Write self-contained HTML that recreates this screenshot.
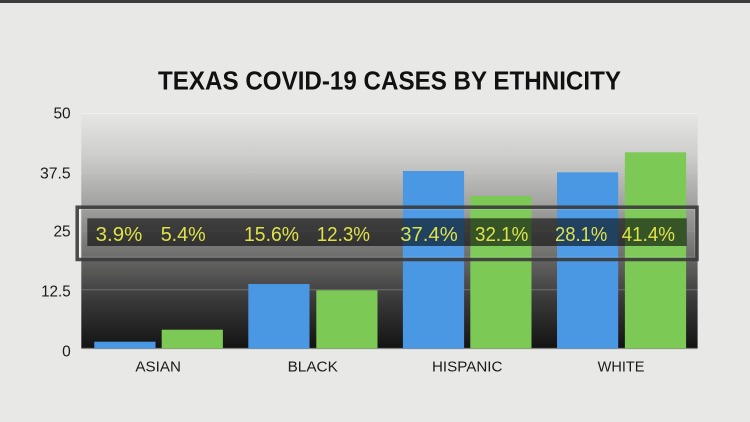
<!DOCTYPE html>
<html><head><meta charset="utf-8"><style>
html,body{margin:0;padding:0;background:#e8e9e6;}
svg{display:block;}
</style></head><body>
<svg width="750" height="422" viewBox="0 0 750 422" xmlns="http://www.w3.org/2000/svg">
<defs>
<linearGradient id="bg" x1="0" y1="0" x2="0" y2="1">
<stop offset="0" stop-color="#e6e6e5"/>
<stop offset="0.18" stop-color="#cdcdcc"/>
<stop offset="0.38" stop-color="#a3a3a2"/>
<stop offset="0.6" stop-color="#6a6a69"/>
<stop offset="0.8" stop-color="#383838"/>
<stop offset="1" stop-color="#131313"/>
</linearGradient>
</defs>
<rect x="0" y="0" width="750" height="422" fill="#e8e9e6"/>
<rect x="0" y="0" width="750" height="3" fill="#3c3c3c"/>
<text x="158" y="89.3" font-family="Liberation Sans, sans-serif" font-weight="bold" font-size="26" fill="#111" textLength="463" lengthAdjust="spacingAndGlyphs">TEXAS COVID-19 CASES BY ETHNICITY</text>
<!-- plot -->
<rect x="81.3" y="113.5" width="616.3" height="235" fill="url(#bg)"/>
<line x1="81.3" y1="113.5" x2="697.6" y2="113.5" stroke="#f0f0ee" stroke-width="1"/>
<line x1="81.3" y1="172.25" x2="697.6" y2="172.25" stroke="#c8c8c6" stroke-width="1" opacity="0.6"/>
<line x1="81.3" y1="231" x2="697.6" y2="231" stroke="#9a9a98" stroke-width="1" opacity="0.6"/>
<line x1="81.3" y1="289.75" x2="697.6" y2="289.75" stroke="#7a7a78" stroke-width="1" opacity="0.8"/>
<line x1="81.3" y1="348.5" x2="697.6" y2="348.5" stroke="#888" stroke-width="1.2"/>
<!-- tick labels -->
<g font-family="Liberation Sans, sans-serif" font-size="15.5" fill="#1a1a1a" text-anchor="end">
<text x="70.7" y="118.3">50</text>
<text x="70.7" y="178.3" textLength="30.7" lengthAdjust="spacingAndGlyphs">37.5</text>
<text x="70.7" y="236.7">25</text>
<text x="70.7" y="296.7" textLength="29.6" lengthAdjust="spacingAndGlyphs">12.5</text>
<text x="70.7" y="356.5">0</text>
</g>
<!-- bars -->
<g fill="#4a98e4">
<rect x="94.3" y="341.7" width="61.2" height="6.8"/>
<rect x="248.3" y="284" width="61.2" height="64.5"/>
<rect x="402.9" y="171" width="61.2" height="177.5"/>
<rect x="557" y="172.3" width="61.2" height="176.2"/>
</g>
<g fill="#7cc955">
<rect x="161.7" y="329.7" width="61.2" height="18.8"/>
<rect x="316.3" y="290.3" width="61.2" height="58.2"/>
<rect x="470.3" y="196" width="61.2" height="152.5"/>
<rect x="624.9" y="152.3" width="61.2" height="196.2"/>
</g>
<!-- category labels -->
<g font-family="Liberation Sans, sans-serif" font-size="14.5" fill="#1a1a1a">
<text x="135.4" y="371.7" textLength="45.5" lengthAdjust="spacingAndGlyphs">ASIAN</text>
<text x="287.6" y="371.7" textLength="50.2" lengthAdjust="spacingAndGlyphs">BLACK</text>
<text x="432" y="371.7" textLength="70.4" lengthAdjust="spacingAndGlyphs">HISPANIC</text>
<text x="597.6" y="371.7" textLength="46.9" lengthAdjust="spacingAndGlyphs">WHITE</text>
</g>
<!-- overlay -->
<rect x="77.2" y="207.2" width="619.8" height="52.3" fill="rgba(255,255,255,0.04)" stroke="#3a3a3a" stroke-width="3.5" opacity="0.9"/>
<line x1="79.8" y1="210" x2="79.8" y2="256.7" stroke="rgba(255,255,255,0.7)" stroke-width="1.2"/>
<rect x="79.6" y="209.6" width="615" height="47.5" fill="none" stroke="rgba(255,255,255,0.15)" stroke-width="1"/>
<rect x="87.3" y="218.3" width="599.4" height="27.7" fill="rgba(0,0,0,0.58)"/>
<g font-family="Liberation Sans, sans-serif" font-size="20" fill="#dfe24b">
<text x="95.7" y="241" textLength="46.6" lengthAdjust="spacingAndGlyphs">3.9%</text>
<text x="160.7" y="241" textLength="45" lengthAdjust="spacingAndGlyphs">5.4%</text>
<text x="244" y="241" textLength="55" lengthAdjust="spacingAndGlyphs">15.6%</text>
<text x="316.7" y="241" textLength="53.3" lengthAdjust="spacingAndGlyphs">12.3%</text>
<text x="400.3" y="241" textLength="57.4" lengthAdjust="spacingAndGlyphs">37.4%</text>
<text x="475" y="241" textLength="53.3" lengthAdjust="spacingAndGlyphs">32.1%</text>
<text x="555" y="241" textLength="52.3" lengthAdjust="spacingAndGlyphs">28.1%</text>
<text x="621.7" y="241" textLength="53.3" lengthAdjust="spacingAndGlyphs">41.4%</text>
</g>
</svg>
</body></html>
